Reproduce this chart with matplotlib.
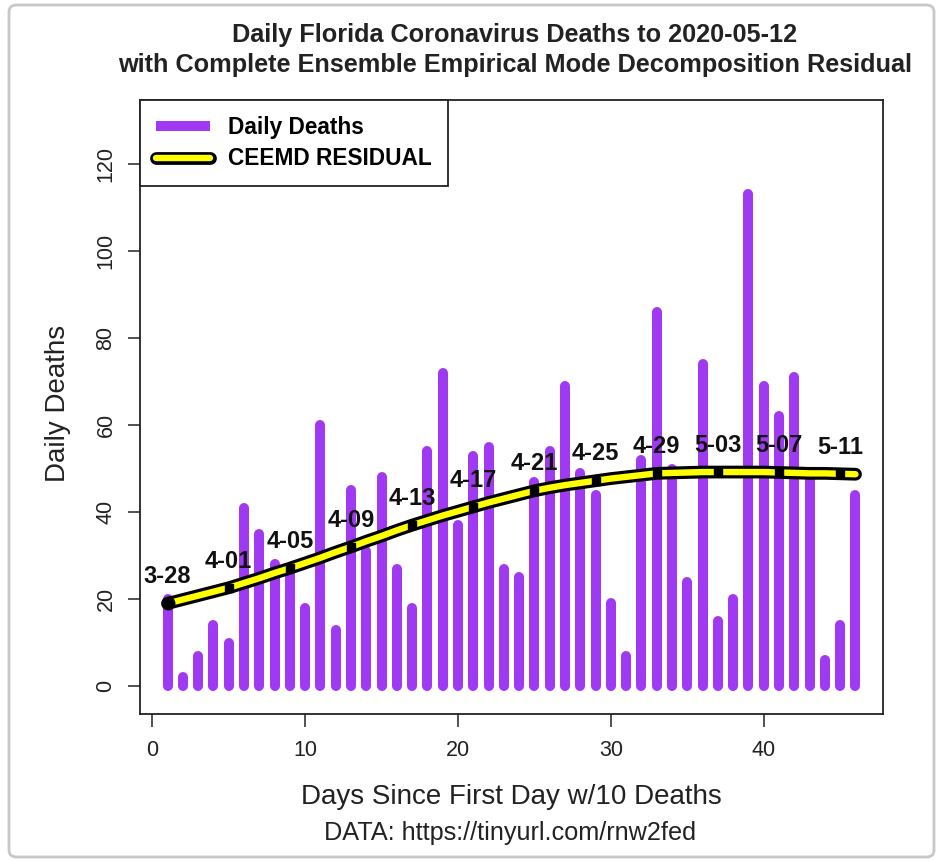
import matplotlib
matplotlib.use("Agg")
import matplotlib.pyplot as plt
import matplotlib.patheffects as pe
from matplotlib.patches import FancyBboxPatch
import numpy as np

plt.rcParams['font.family'] = ['Liberation Sans', 'DejaVu Sans']

# daily deaths, day 1 = 2020-03-28
days = np.arange(1, 47)
deaths = [20, 2, 7, 14, 10, 41, 35, 28, 26, 18,
          60, 13, 45, 31, 48, 27, 18, 54, 72, 37,
          53, 55, 27, 25, 47, 54, 69, 49, 44, 19,
          7, 52, 86, 50, 24, 74, 15, 20, 113, 69,
          62, 71, 48, 6, 14, 44]

# CEEMD residual
residual = [19.0, 19.9, 20.8, 21.7, 22.6, 23.7, 24.8, 26.0, 27.1, 28.3,
            29.5, 30.8, 32.0, 33.3, 34.5, 35.8, 37.0, 38.1, 39.2, 40.2,
            41.2, 42.2, 43.1, 44.0, 44.9, 45.6, 46.2, 46.7, 47.2, 47.7,
            48.1, 48.5, 48.9, 49.0, 49.1, 49.2, 49.2, 49.2, 49.2, 49.2,
            49.1, 49.0, 48.9, 48.9, 48.8, 48.7]

label_days = [1, 5, 9, 13, 17, 21, 25, 29, 33, 37, 41, 45]
date_labels = ['3-28', '4-01', '4-05', '4-09', '4-13', '4-17',
               '4-21', '4-25', '4-29', '5-03', '5-07', '5-11']

W, H = 937, 861
fig = plt.figure(figsize=(W / 100, H / 100), dpi=100)

# light screenshot frame
fig.patches.append(FancyBboxPatch((9 / W, 4 / H), 925 / W, 852 / H,
                                  boxstyle='round,pad=0,rounding_size=0.008',
                                  transform=fig.transFigure, fill=False,
                                  edgecolor='#c8c8c8', linewidth=2.0))

ax = fig.add_axes([140 / W, 1 - 714 / H, (883 - 140) / W, (714 - 100) / H])

purple = '#A03AF2'

# bars as thick vertical lines (R type="h")
ax.vlines(days, 0, deaths, colors=purple, linewidth=7.2, capstyle='round',
          label='Daily Deaths', zorder=2)

# residual: yellow line with black outline
ax.plot(days, residual, color='#FFFF00', linewidth=4.6, solid_capstyle='round',
        path_effects=[pe.Stroke(linewidth=9.2, foreground='black'), pe.Normal()],
        label='CEEMD RESIDUAL', zorder=3)

idx = [d - 1 for d in label_days]
lx = [days[i] for i in idx]
ly = [residual[i] for i in idx]
ax.plot(lx, ly, 's', color='black', markersize=6, zorder=4)
ax.plot(lx[:1], ly[:1], 'o', color='black', markersize=9, zorder=4)
for x, y, s in zip(lx, ly, date_labels):
    ax.annotate(s, (x, y), xytext=(0, 11), textcoords='offset points',
                ha='center', va='bottom', fontsize=17, fontweight='bold',
                color='#111111', zorder=5)

ax.set_xlim(-0.8, 47.8)
ax.set_ylim(-6.4, 134.7)
ax.set_xticks([0, 10, 20, 30, 40])
ax.set_yticks([0, 20, 40, 60, 80, 100, 120])
ax.tick_params(axis='both', direction='out', length=9, width=1.2,
               color='#333333', labelsize=15.5, labelcolor='#222222')
ax.tick_params(axis='x', pad=10)
ax.tick_params(axis='y', pad=8)
for lab in ax.get_yticklabels():
    lab.set_rotation(90)
    lab.set_va('center')
for sp in ax.spines.values():
    sp.set_linewidth(1.3)
    sp.set_color('#222222')

leg = ax.legend(loc='upper left', borderaxespad=0, fancybox=False,
                framealpha=1, edgecolor='#222222', handlelength=2.4,
                handletextpad=0.8, borderpad=0.7, labelspacing=0.38,
                prop={'weight': 'bold', 'size': 16.3})
leg.get_frame().set_linewidth(1.3)

fig.text(515 / W, 1 - 35 / H, 'Daily Florida Coronavirus Deaths to 2020-05-12',
         ha='center', va='center', fontsize=18.2, fontweight='bold', color='#222222')
fig.text(515 / W, 1 - 65 / H,
         'with Complete Ensemble Empirical Mode Decomposition Residual',
         ha='center', va='center', fontsize=18.2, fontweight='bold', color='#222222')
fig.text(511 / W, 1 - 797 / H, 'Days Since First Day w/10 Deaths',
         ha='center', va='center', fontsize=20, color='#222222')
fig.text(510 / W, 1 - 833 / H, 'DATA: https://tinyurl.com/rnw2fed',
         ha='center', va='center', fontsize=18.2, color='#222222')
fig.text(58 / W, 1 - 403 / H, 'Daily Deaths', rotation=90,
         ha='center', va='center', fontsize=20, color='#222222')

fig.savefig('out.png', dpi=100)
